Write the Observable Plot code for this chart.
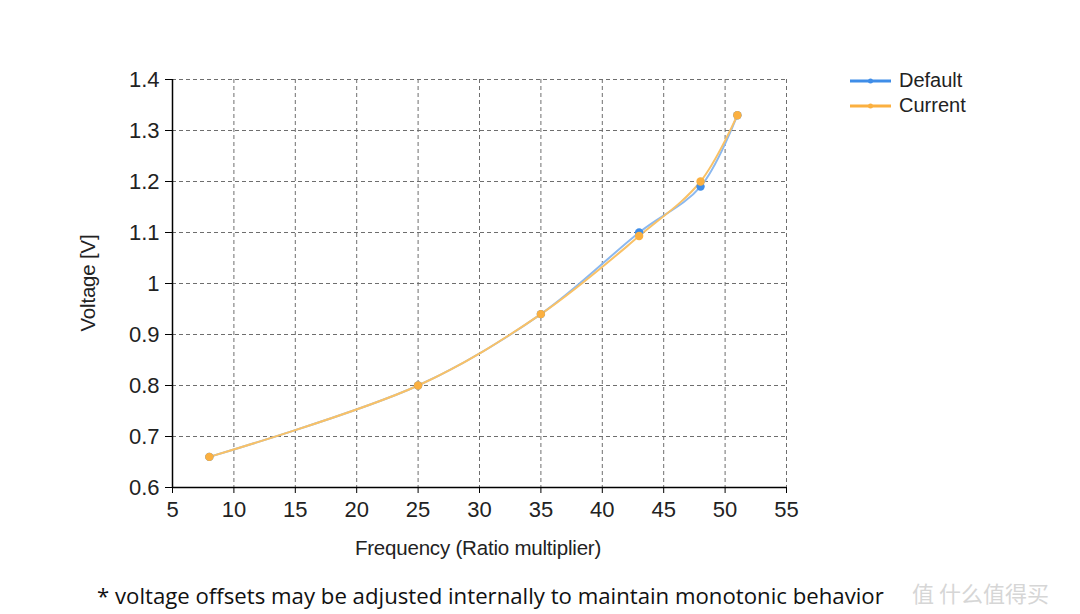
<!DOCTYPE html>
<html>
<head>
<meta charset="utf-8">
<script src="https://cdn.jsdelivr.net/npm/d3@7"></script>
<script src="https://cdn.jsdelivr.net/npm/@observablehq/plot@0.6"></script>
<style>
  html, body { margin: 0; padding: 0; background: #fff; }
  #wrap { position: relative; width: 1080px; height: 614px; overflow: hidden; background: #fff; }
  #chart { position: absolute; left: 0; top: 0; }
  .lbl { position: absolute; font-family: "Liberation Sans", Arial, sans-serif; color: #222; white-space: nowrap; }
  #xlabel { left: 478px; top: 536px; transform: translateX(-50%); font-size: 20.5px; letter-spacing: -0.2px; }
  #ylabel { left: 88px; top: 283px; transform: translate(-50%, -50%) rotate(-90deg); font-size: 20.5px; letter-spacing: -0.2px; }
  #legend { position: absolute; left: 850px; top: 68px; font-family: "Liberation Sans", Arial, sans-serif; font-size: 20px; color: #222; }
  #legend div { display: flex; align-items: center; height: 25px; }
  #legend svg { margin-right: 8px; }
  #caption { position: absolute; left: 97px; top: 580px; font-family: "Open Sans", "Noto Sans", sans-serif; font-size: 22.2px; color: #111; white-space: nowrap; }
  #mark { position: absolute; left: 912px; top: 576px; font-family: "Noto Sans CJK SC", sans-serif; font-size: 22px; color: #d6d6d6; white-space: nowrap; }
</style>
</head>
<body>
<div id="wrap">
  <div id="chart"></div>
  <div id="xlabel" class="lbl">Frequency (Ratio multiplier)</div>
  <div id="ylabel" class="lbl">Voltage [V]</div>
  <div id="legend"></div>
  <div id="caption">* voltage offsets may be adjusted internally to maintain monotonic behavior</div>
  <div id="mark">值 什么值得买</div>
</div>
<script>
// ---- data ----
const frequency = [8, 25, 35, 43, 48, 51];
const defaultVoltage = [0.66, 0.80, 0.94, 1.10, 1.19, 1.33];
const currentVoltage = [0.66, 0.80, 0.94, 1.093, 1.20, 1.33];
const seriesNames = ["Default", "Current"];
const seriesColors = ["#3f8de8", "#fbb040"];
const lineColors = ["#8bb8ef", "#f9c166"];
const xTicks = [5, 10, 15, 20, 25, 30, 35, 40, 45, 50, 55];
const yTicks = [0.6, 0.7, 0.8, 0.9, 1.0, 1.1, 1.2, 1.3, 1.4];

const rows = [];
frequency.forEach((f, i) => rows.push({series: seriesNames[0], f, v: defaultVoltage[i]}));
frequency.forEach((f, i) => rows.push({series: seriesNames[1], f, v: currentVoltage[i]}));

const W = 1080, H = 575;
const tickFont = "'Liberation Sans', Arial, sans-serif";

const chart = Plot.plot({
  width: W,
  height: H,
  marginLeft: 172,
  marginRight: 294,
  marginTop: 79,
  marginBottom: 88,
  style: {background: "#fff", fontFamily: tickFont, color: "#222", overflow: "visible"},
  x: {domain: [5, 55]},
  y: {domain: [0.6, 1.4]},
  color: {domain: seriesNames, range: seriesColors},
  marks: [
    Plot.gridX(xTicks, {stroke: "#6e6e6e", strokeOpacity: 1, strokeDasharray: "4,3", strokeWidth: 1}),
    Plot.gridY(yTicks, {stroke: "#6e6e6e", strokeOpacity: 1, strokeDasharray: "4,3", strokeWidth: 1}),
    Plot.axisX({ticks: xTicks, tickSize: 6, tickPadding: 8, fontSize: 22, label: null, tickFormat: d => String(d), stroke: "#000"}),
    Plot.axisY({ticks: yTicks, tickSize: 7, tickPadding: 6, fontSize: 22, label: null, tickFormat: d => String(+d.toFixed(1)), stroke: "#000"}),
    Plot.ruleX([5], {stroke: "#000", strokeWidth: 1.5}),
    Plot.ruleY([0.6], {stroke: "#000", strokeWidth: 1.5}),
    Plot.line(rows.filter(r => r.series === seriesNames[0]), {x: "f", y: "v", stroke: lineColors[0], strokeWidth: 2, curve: "catmull-rom"}),
    Plot.line(rows.filter(r => r.series === seriesNames[1]), {x: "f", y: "v", stroke: lineColors[1], strokeWidth: 2, curve: "catmull-rom"}),
    Plot.dot(rows, {x: "f", y: "v", fill: "series", r: 4.2, stroke: "none"})
  ]
});
document.getElementById("chart").appendChild(chart);

// legend
const leg = document.getElementById("legend");
seriesNames.forEach((n, i) => {
  const d = document.createElement("div");
  d.innerHTML = `<svg width="41" height="10"><line x1="0" y1="5" x2="41" y2="5" stroke="${seriesColors[i]}" stroke-width="3"/><circle cx="20.5" cy="5" r="2.5" fill="${seriesColors[i]}"/></svg><span>${n}</span>`;
  leg.appendChild(d);
});
</script>
</body>
</html>
